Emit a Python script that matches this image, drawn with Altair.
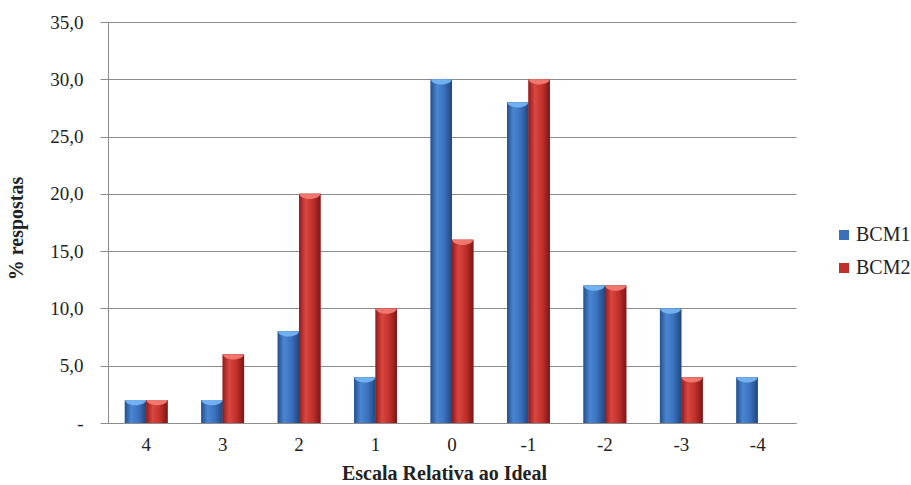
import altair as alt
import pandas as pd

# Relative-to-ideal scale, from +4 down to -4
categories = ["4", "3", "2", "1", "0", "-1", "-2", "-3", "-4"]
bcm1 = [2, 2, 8, 4, 30, 28, 12, 10, 4]
bcm2 = [2, 6, 20, 10, 16, 30, 12, 4, 0]
series_names = ["BCM1", "BCM2"]

rows = []
for c, a, b in zip(categories, bcm1, bcm2):
    rows.append({"escala": c, "serie": "BCM1", "pct": a})
    rows.append({"escala": c, "serie": "BCM2", "pct": b})
df = pd.DataFrame(rows)

FONT = "'Times New Roman', 'Liberation Serif', serif"
base_colors = ["#3a6fba", "#c0302a"]
cap_colors = ["#74b4f2", "#f07a72"]

x_enc = alt.X(
    "escala:N",
    sort=categories,
    title="Escala Relativa ao Ideal",
    scale=alt.Scale(paddingInner=0.44, paddingOuter=0.22),
    axis=alt.Axis(
        labelAngle=0, labelFont=FONT, labelFontSize=19, labelColor="#222",
        labelPadding=12, ticks=False, domainColor="#8c8c8c",
        titleFont=FONT, titleFontSize=20, titleFontWeight="bold",
        titleColor="#222", titlePadding=9, titleX=336,
    ),
)
xoff = alt.XOffset("serie:N", scale=alt.Scale(domain=series_names))
y_enc = alt.Y(
    "pct:Q",
    title="% respostas",
    scale=alt.Scale(domain=[0, 35]),
    axis=alt.Axis(
        values=[0, 5, 10, 15, 20, 25, 30, 35],
        labelExpr="datum.value == 0 ? '-' : replace(format(datum.value, '.1f'), '.', ',')",
        labelFont=FONT, labelFontSize=19, labelColor="#222", labelPadding=17,
        tickSize=8, tickColor="#8c8c8c", domainColor="#8c8c8c",
        gridColor="#8c8c8c", gridWidth=1,
        titleFont=FONT, titleFontSize=20, titleFontWeight="bold",
        titleColor="#222", titleX=-82, titleY=206,
    ),
)

# Flat-coloured bars that carry the legend
flat = alt.Chart(df).mark_bar().encode(
    x=x_enc,
    xOffset=xoff,
    y=y_enc,
    color=alt.Color(
        "serie:N",
        scale=alt.Scale(domain=series_names, range=base_colors),
        legend=alt.Legend(
            title=None, orient="none", legendX=726, legendY=203,
            labelFont=FONT, labelFontSize=20, labelColor="#222",
            symbolType="square", symbolSize=100, symbolStrokeWidth=0,
            rowPadding=13, labelOffset=2,
        ),
    ),
)


def shaded(name, stops):
    grad = alt.Gradient(
        gradient="linear", x1=0, x2=1, y1=0, y2=0,
        stops=[alt.GradientStop(offset=o, color=c) for o, c in stops],
    )
    return alt.Chart(df).transform_filter(
        alt.datum.serie == name
    ).mark_bar(fill=grad).encode(x=x_enc, xOffset=xoff, y=y_enc)


blue_bars = shaded("BCM1", [(0, "#24508c"), (0.3, "#4a86d2"), (0.65, "#3a70bc"), (1, "#22467c")])
red_bars = shaded("BCM2", [(0, "#8e1c1c"), (0.3, "#da4640"), (0.65, "#c0302a"), (1, "#7c1616")])

# Light cap at the top of each cylinder
caps = alt.Chart(df).transform_filter(alt.datum.pct > 0).mark_point(
    shape="M-1,0 A1,0.5 0 0,0 1,0 Z", filled=True, opacity=0.95, size=440,
).encode(
    x=x_enc,
    xOffset=xoff,
    y=y_enc,
    fill=alt.Fill("serie:N", scale=alt.Scale(domain=series_names, range=cap_colors), legend=None),
)

chart = alt.layer(flat, blue_bars, red_bars, caps).resolve_scale(
    fill="independent"
).properties(
    width=688,
    height=401,
    autosize=alt.AutoSizeParams(type="none"),
    padding={"left": 108, "top": 22, "right": 115, "bottom": 62},
    background="white",
).configure_view(stroke=None)

chart.save("out.html", embed_options={"renderer": "svg", "actions": False})
